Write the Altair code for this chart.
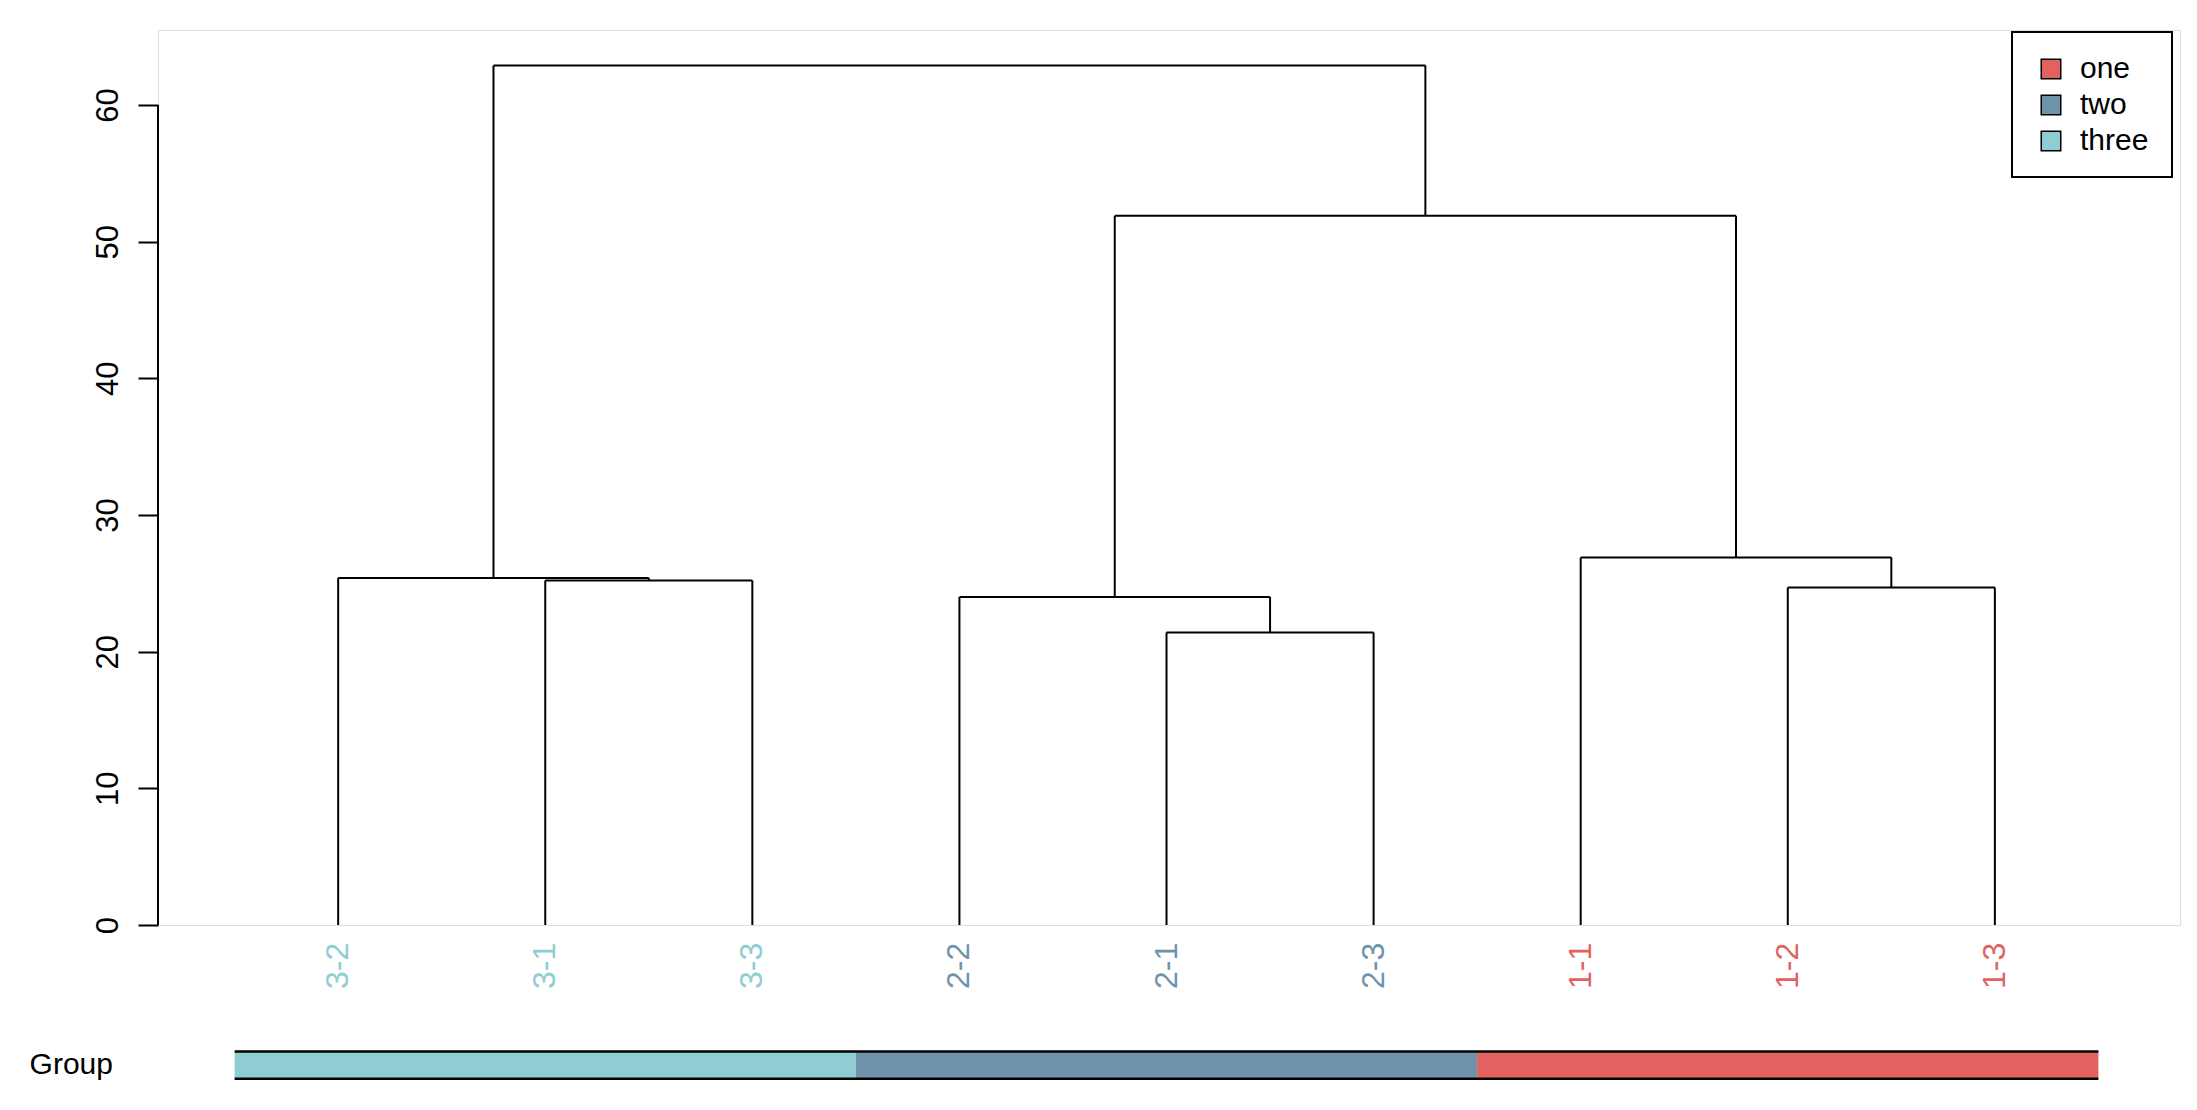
import altair as alt
import pandas as pd

leaves = ["3-2", "3-1", "3-3", "2-2", "2-1", "2-3", "1-1", "1-2", "1-3"]
leaf_group = ["three"] * 3 + ["two"] * 3 + ["one"] * 3
# merges: negative = leaf index (1-based), positive = earlier merge (1-based)
merge_left = [-2, -5, -8, -1, -4, -7, 5, 4]
merge_right = [-3, -6, -9, 1, 2, 3, 6, 7]
merge_height = [25.2, 21.4, 24.7, 25.4, 24.0, 26.9, 51.9, 62.9]

groups = ["one", "two", "three"]
group_colors = ["#E2625F", "#6F93AA", "#8ECDD2"]

pos, hgt = {}, {}
segs = []
def node(n):
    if n < 0:
        return float(-n), 0.0
    return pos[n], hgt[n]
for i, (l, r, h) in enumerate(zip(merge_left, merge_right, merge_height), start=1):
    xl, hl = node(l)
    xr, hr = node(r)
    segs.append(dict(x=xl, x2=xl, y=hl, y2=h))
    segs.append(dict(x=xr, x2=xr, y=hr, y2=h))
    segs.append(dict(x=xl, x2=xr, y=h, y2=h))
    pos[i] = (xl + xr) / 2
    hgt[i] = h
seg_df = pd.DataFrame(segs)

xs = alt.Scale(domain=[0.13, 9.894], nice=False, zero=False)
ys = alt.Scale(domain=[0, 65.49], nice=False, zero=False)
FONT = "Liberation Sans"
cscale = alt.Scale(domain=groups, range=group_colors)

tree = alt.Chart(seg_df).mark_rule(color="black", strokeWidth=2).encode(
    x=alt.X("x:Q", scale=xs, axis=None),
    x2="x2",
    y=alt.Y("y:Q", scale=ys, axis=alt.Axis(values=[0, 10, 20, 30, 40, 50, 60], title=None,
        domain=False, tickColor="black", tickSize=20, tickWidth=2, labelAngle=270,
        labelAlign="center", labelBaseline="bottom", labelPadding=14, labelFontSize=31,
        labelFont=FONT, labelColor="black", grid=False)),
    y2="y2",
)

axis_line = alt.Chart(pd.DataFrame({"y": [0], "y2": [60]})).mark_rule(color="black", strokeWidth=2).encode(
    x=alt.value(0), y=alt.Y("y:Q", scale=ys), y2="y2")

lab_df = pd.DataFrame({"x": list(range(1, 10)), "label": leaves, "group": leaf_group,
                       "y": [-1.3] * 9})
labels = alt.Chart(lab_df).mark_text(angle=270, align="right", baseline="middle",
                                     fontSize=32, font=FONT).encode(
    x=alt.X("x:Q", scale=xs), y=alt.Y("y:Q", scale=ys),
    text="label",
    color=alt.Color("group:N", scale=cscale, legend=None))

bar_df = pd.DataFrame({"x": [0.5, 3.5, 6.5], "x2": [3.5, 6.5, 9.5],
                       "group": ["three", "two", "one"], "y": [-9.25] * 3, "y2": [-11.25] * 3})
bar = alt.Chart(bar_df).mark_rect().encode(
    x=alt.X("x:Q", scale=xs), x2="x2", y=alt.Y("y:Q", scale=ys), y2="y2",
    color=alt.Color("group:N", scale=cscale, legend=None))
bar_lines = alt.Chart(pd.DataFrame({"x": [0.5, 0.5], "x2": [9.5, 9.5], "y": [-9.25, -11.25]})).mark_rule(
    color="black", strokeWidth=2.5).encode(x=alt.X("x:Q", scale=xs), x2="x2", y=alt.Y("y:Q", scale=ys))
group_txt = alt.Chart(pd.DataFrame({"x": [-0.49], "y": [-10.25], "t": ["Group"]})).mark_text(
    align="left", baseline="middle", fontSize=30, font=FONT, color="black").encode(
    x=alt.X("x:Q", scale=xs), y=alt.Y("y:Q", scale=ys), text="t")

leg_box = alt.Chart(pd.DataFrame({"a": [0]})).mark_rect(fill="white", stroke="black", strokeWidth=2).encode(
    x=alt.value(1854), x2=alt.value(2014), y=alt.value(2), y2=alt.value(147))
leg_df = pd.DataFrame({"group": groups, "yy": [39, 75, 111]})
leg_sw = alt.Chart(leg_df).mark_square(size=380, stroke="black", strokeWidth=1.5, opacity=1).encode(
    x=alt.value(1893), y=alt.Y("yy:Q", scale=None),
    fill=alt.Color("group:N", scale=cscale, legend=None))
leg_tx = alt.Chart(leg_df).mark_text(align="left", baseline="middle", fontSize=30, font=FONT, color="black").encode(
    x=alt.value(1922), y=alt.Y("yy:Q", scale=None), text="group")

chart = alt.layer(tree, axis_line, labels, bar, bar_lines, group_txt, leg_box, leg_sw, leg_tx).properties(
    width=2022, height=895, autosize="none",
    padding={"left": 150, "top": 22, "right": 9, "bottom": 180},
).configure_view(stroke="white", strokeWidth=0).configure(background="white").resolve_scale(color="independent")

chart.save("out.html", embed_options={"renderer": "svg", "actions": False})
